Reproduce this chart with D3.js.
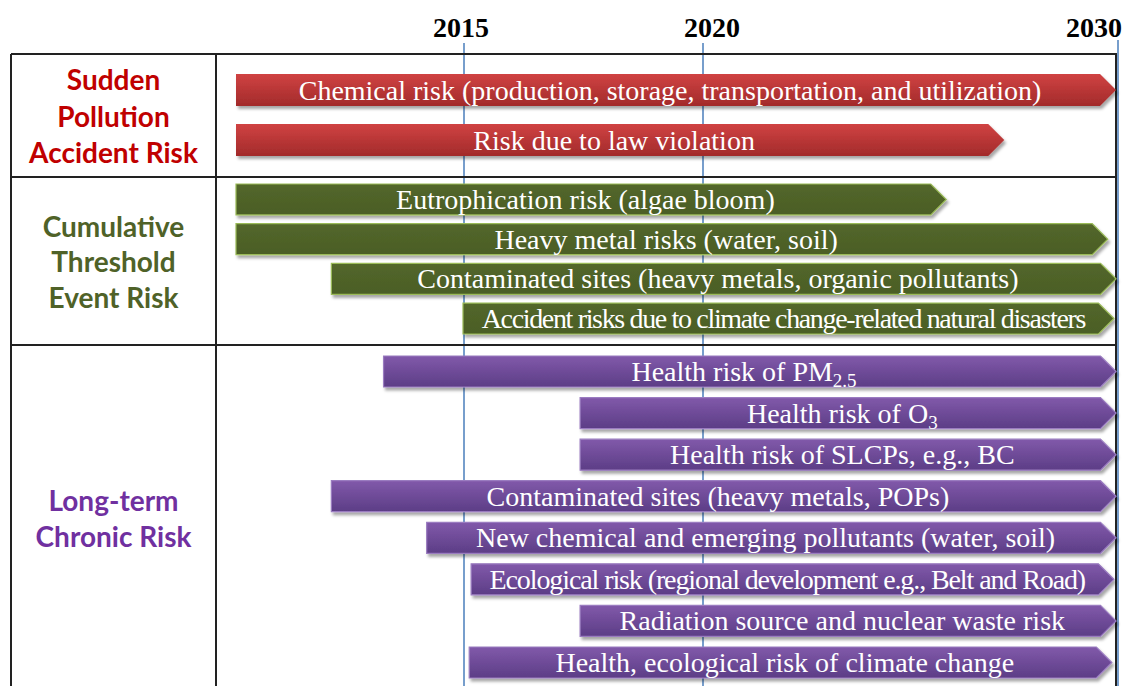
<!DOCTYPE html>
<html><head><meta charset="utf-8">
<script src="https://cdn.jsdelivr.net/npm/d3@7/dist/d3.min.js"></script>
<style>body{margin:0;background:#fff;} svg{display:block;}</style>
</head><body>
<svg id="chart" width="1126" height="686"></svg>
<script>
// ---------------- data ----------------
const tickYears = [2015, 2020, 2030];
const tickLabels = ["2015", "2020", "2030"];

const categoryLines = [
  ["Sudden", "Pollution", "Accident Risk"],
  ["Cumulative", "Threshold", "Event Risk"],
  ["Long-term", "Chronic Risk"]
];

const suddenRisks = ["Chemical risk (production, storage, transportation, and utilization)", "Risk due to law violation"];
const suddenSub = ["", ""];
const suddenStart = [2010, 2010];
const suddenEnd = [2030, 2027.3];

const cumulativeRisks = ["Eutrophication risk (algae bloom)", "Heavy metal risks (water, soil)",
  "Contaminated sites (heavy metals, organic pollutants)", "Accident risks due to climate change-related natural disasters"];
const cumulativeSub = ["", "", "", ""];
const cumulativeStart = [2010, 2010, 2012.1, 2015];
const cumulativeEnd = [2025.9, 2029.8, 2030, 2029.95];

const chronicRisks = ["Health risk of PM", "Health risk of O", "Health risk of SLCPs, e.g., BC",
  "Contaminated sites (heavy metals, POPs)", "New chemical and emerging pollutants (water, soil)",
  "Ecological risk (regional development e.g., Belt and Road)", "Radiation source and nuclear waste risk",
  "Health, ecological risk of climate change"];
const chronicSub = ["2.5", "3", "", "", "", "", "", ""];
const chronicStart = [2013.25, 2017.45, 2017.45, 2012.1, 2014.2, 2015.17, 2017.45, 2015.13];
const chronicEnd = [2030, 2030, 2030, 2030, 2030, 2029.95, 2030, 2029.9];

// ---------------- layout ----------------
const svg = d3.select("#chart");
const W = 1126, H = 686;
const tableLeft = 11, colDiv = 216, tableRight = 1117;
const rowBounds = [54, 177, 345, 700];

const x = d3.scaleLinear().domain([2010, 2015, 2020, 2030]).range([236, 463, 702, 1116]);

const groups = [
  {names: suddenRisks, subs: suddenSub, start: suddenStart, end: suddenEnd, range: [74, 156], pad: 0.36,
   color: "#c00000", grad: "gRed", stroke: "none"},
  {names: cumulativeRisks, subs: cumulativeSub, start: cumulativeStart, end: cumulativeEnd, range: [184, 334], pad: 0.22,
   color: "#4f6228", grad: "gGreen", stroke: "#9bbb59"},
  {names: chronicRisks, subs: chronicSub, start: chronicStart, end: chronicEnd, range: [356, 678], pad: 0.254,
   color: "#7030a0", grad: "gPurple", stroke: "#9a7cc0"}
];

// defs
const defs = svg.append("defs");
function grad(id, top, bottom) {
  const g = defs.append("linearGradient").attr("id", id).attr("x1", 0).attr("y1", 0).attr("x2", 0).attr("y2", 1);
  g.append("stop").attr("offset", "0%").attr("stop-color", top);
  g.append("stop").attr("offset", "100%").attr("stop-color", bottom);
}
grad("gRed", "#d04343", "#a22a2a");
grad("gGreen", "#53672b", "#4b5e25");
grad("gPurple", "#8159aa", "#5c3d86");
const f = defs.append("filter").attr("id", "shadow").attr("x", "-5%").attr("y", "-30%").attr("width", "110%").attr("height", "170%");
f.append("feDropShadow").attr("dx", 2).attr("dy", 3).attr("stdDeviation", 1.6).attr("flood-color", "#000").attr("flood-opacity", 0.35);

// year guide lines (behind bars)
const guide = svg.append("g");
tickYears.forEach((yr, i) => {
  const xx = x(yr) + (i === 2 ? 2 : 1);
  guide.append("line").attr("x1", xx).attr("x2", xx).attr("y1", i === 2 ? 40 : 43).attr("y2", H)
    .attr("stroke", "#4a7ebb").attr("stroke-width", 1.5);
});

// year labels
const labelDx = [-2, 10, 6];
const labelAnchor = ["middle", "middle", "end"];
tickYears.forEach((yr, i) => {
  svg.append("text").attr("x", x(yr) + labelDx[i]).attr("y", 37)
    .attr("text-anchor", labelAnchor[i])
    .attr("font-family", "'Liberation Serif','Times New Roman',serif").attr("font-weight", "bold")
    .attr("font-size", 28).attr("fill", "#000").text(tickLabels[i]);
});

// table lines
const tbl = svg.append("g").attr("stroke", "#222").attr("stroke-width", 2);
rowBounds.slice(0, 3).forEach(y => tbl.append("line").attr("x1", tableLeft).attr("x2", tableRight).attr("y1", y).attr("y2", y));
[tableLeft, colDiv].forEach(xx => tbl.append("line").attr("x1", xx).attr("x2", xx).attr("y1", rowBounds[0]).attr("y2", H));
tbl.append("line").attr("x1", tableRight - 1).attr("x2", tableRight - 1).attr("y1", rowBounds[0]).attr("y2", H);

// category labels
const labelCenters = [[90, 127, 163], [237, 272, 308], [511, 547]];
categoryLines.forEach((lines, gi) => {
  lines.forEach((ln, li) => {
    svg.append("text").attr("x", (tableLeft + colDiv) / 2).attr("y", labelCenters[gi][li])
      .attr("text-anchor", "middle").attr("font-family", "Lato, 'Open Sans', sans-serif")
      .attr("font-weight", "bold").attr("font-size", 28).attr("fill", groups[gi].color).text(ln);
  });
});

// bars
groups.forEach((g) => {
  const y = d3.scaleBand().domain(d3.range(g.names.length)).range(g.range).paddingInner(g.pad);
  const data = g.names.map((n, i) => ({name: n, sub: g.subs[i], s: g.start[i], e: g.end[i], i}));
  const bars = svg.append("g").selectAll("g").data(data).join("g");
  bars.append("path")
    .attr("d", d => {
      const x0 = x(d.s), x1 = x(d.e), y0 = y(d.i), h = y.bandwidth(), head = h / 2;
      return `M${x0},${y0}H${x1 - head}L${x1},${y0 + h / 2}L${x1 - head},${y0 + h}H${x0}Z`;
    })
    .attr("fill", `url(#${g.grad})`)
    .attr("stroke", g.stroke).attr("stroke-width", g.stroke === "none" ? 0 : 1.2)
    .attr("filter", "url(#shadow)");
  bars.each(function(d) {
    const h = y.bandwidth(), x0 = x(d.s), x1 = x(d.e) - h / 2;
    const body = x1 - x0;
    const cx = (x0 + x1) / 2 + 2;
    const t = d3.select(this).append("text")
      .attr("x", cx).attr("y", y(d.i) + h / 2 + 9.5)
      .attr("text-anchor", "middle")
      .attr("font-family", "'Liberation Serif','Times New Roman',serif")
      .attr("font-size", 28).attr("fill", "#fff");
    t.append("tspan").text(d.name);
    if (d.sub) t.append("tspan").attr("font-size", 19).attr("dy", 6).text(d.sub);
    const w = t.node().getComputedTextLength();
    const target = body - 32;
    if (w > body - 20) {
      const n = (d.name + d.sub).length;
      const ls = (target - w) / n;
      t.attr("letter-spacing", ls.toFixed(2)).attr("x", cx - ls / 2);
    }
  });
});
</script>
</body></html>
